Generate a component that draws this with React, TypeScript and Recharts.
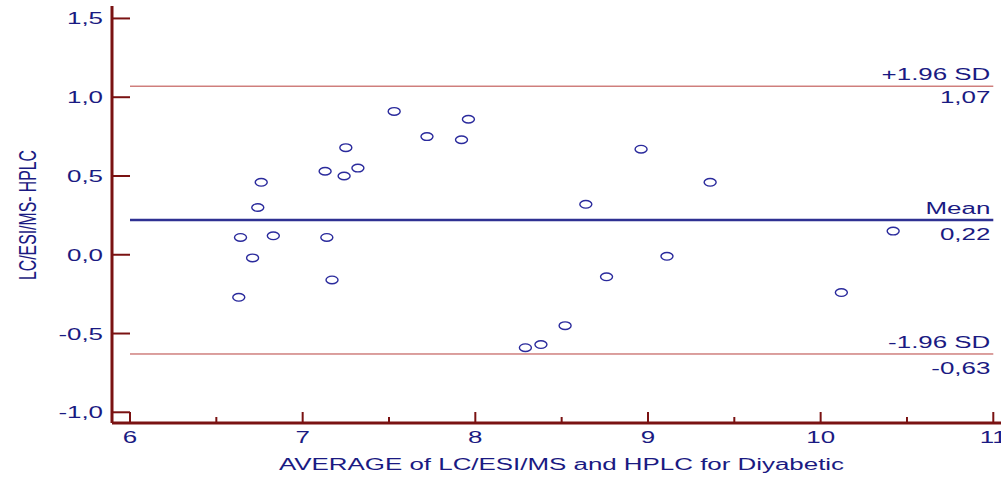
import React from 'react';
import { ScatterChart, Scatter, XAxis, YAxis, ReferenceLine } from 'recharts';

// average of the two methods (x) and their difference (y)
const averages = [
  6.63, 6.64, 6.71, 6.74, 6.76, 6.83, 7.13, 7.14, 7.17, 7.24, 7.25, 7.32, 7.53,
  7.72, 7.92, 7.96, 8.29, 8.38, 8.52, 8.64, 8.76, 8.96, 9.11, 9.36, 10.12, 10.42,
];
const differences = [
  -0.27, 0.11, -0.02, 0.3, 0.46, 0.12, 0.53, 0.11, -0.16, 0.5, 0.68, 0.55, 0.91,
  0.75, 0.73, 0.86, -0.59, -0.57, -0.45, 0.32, -0.14, 0.67, -0.01, 0.46, -0.24, 0.15,
];

const xTicks = [6, 6.5, 7, 7.5, 8, 8.5, 9, 9.5, 10, 10.5, 11];
const yTicks = [-1, -0.5, 0, 0.5, 1, 1.5];

const meanDiff = 0.22;
const upperLimit = 1.07;
const lowerLimit = -0.63;

const points = averages.map((x, i) => ({ x, y: differences[i] }));

const AXIS = '#7a1212';
const TEXT = '#1a1a82';
const FONT = '"Liberation Sans", Arial, sans-serif';

const comma = (v: number, d: number) => v.toFixed(d).replace('.', ',');

// the original draws its text horizontally stretched
function Wide({ x, y, anchor = 'start', size = 16, children }: any) {
  return (
    <g transform={`translate(${x},${y}) scale(1.62,1)`}>
      <text x={0} y={0} textAnchor={anchor} fill={TEXT} fontSize={size} fontFamily={FONT}>
        {children}
      </text>
    </g>
  );
}

function XTick(props: any) {
  const { x, y, payload } = props;
  const major = Number.isInteger(payload.value);
  return (
    <g>
      <line x1={x} x2={x} y1={y} y2={y - (major ? 11 : 6)} stroke={AXIS} strokeWidth={2} />
      {major && (
        <Wide x={x} y={y + 20} anchor="middle">
          {payload.value}
        </Wide>
      )}
    </g>
  );
}

function YTick(props: any) {
  const { x, y, payload } = props;
  return (
    <g>
      <line x1={x} x2={x + 18} y1={y} y2={y} stroke={AXIS} strokeWidth={2} />
      <Wide x={x - 9} y={y + 6} anchor="end">
        {comma(payload.value, 1)}
      </Wide>
    </g>
  );
}

function Ring(props: any) {
  const { cx, cy } = props;
  return <ellipse cx={cx} cy={cy} rx={6} ry={3.8} fill="none" stroke="#2a2a9c" strokeWidth={1.4} />;
}

function lineLabel(top: string, bottom: string, below: number) {
  return (props: any) => {
    const { viewBox } = props;
    const right = viewBox.x + viewBox.width - 3;
    return (
      <g>
        <Wide x={right} y={viewBox.y - 6} anchor="end">{top}</Wide>
        <Wide x={right} y={viewBox.y + below} anchor="end">{bottom}</Wide>
      </g>
    );
  };
}

export default function App() {
  return (
    <div style={{ position: 'absolute', left: 0, top: 0, background: '#fff' }}>
      <ScatterChart width={1001} height={479} margin={{ top: 6, right: 0, bottom: 0, left: 0 }}>
        <XAxis
          type="number"
          dataKey="x"
          domain={[5.8957, 11.0446]}
          ticks={xTicks}
          allowDataOverflow
          interval={0}
          height={56}
          tickSize={0}
          tickMargin={0}
          tick={<XTick />}
          axisLine={{ stroke: AXIS, strokeWidth: 3 }}
          label={(p: any) => (
            <Wide x={p.viewBox.x + p.viewBox.width / 2 + 5} y={p.viewBox.y + 47} anchor="middle">
              AVERAGE of LC/ESI/MS and HPLC for Diyabetic
            </Wide>
          )}
        />
        <YAxis
          type="number"
          dataKey="y"
          domain={[-1.068, 1.579]}
          ticks={yTicks}
          allowDataOverflow
          interval={0}
          width={112}
          tickSize={0}
          tickMargin={0}
          tick={<YTick />}
          axisLine={{ stroke: AXIS, strokeWidth: 3 }}
          label={() => {
            const cx = 27;
            const cy = 215;
            return (
              <text
                x={cx}
                y={cy}
                transform={`rotate(-90 ${cx} ${cy})`}
                textAnchor="middle"
                dominantBaseline="central"
                fill={TEXT}
                fontSize={24}
                fontFamily='"Liberation Sans Narrow", "Arial Narrow", sans-serif'
                textLength={130}
                lengthAdjust="spacingAndGlyphs"
              >
                LC/ESI/MS- HPLC
              </text>
            );
          }}
        />
        <ReferenceLine
          segment={[{ x: 6, y: upperLimit }, { x: 11, y: upperLimit }]}
          stroke="#b8403e"
          strokeWidth={1}
          label={lineLabel('+1.96 SD', comma(upperLimit, 2), 17)}
        />
        <ReferenceLine
          segment={[{ x: 6, y: meanDiff }, { x: 11, y: meanDiff }]}
          stroke="#2e3192"
          strokeWidth={2.5}
          label={lineLabel('Mean', comma(meanDiff, 2), 20)}
        />
        <ReferenceLine
          segment={[{ x: 6, y: lowerLimit }, { x: 11, y: lowerLimit }]}
          stroke="#b8403e"
          strokeWidth={1}
          label={lineLabel('-1.96 SD', comma(lowerLimit, 2), 20)}
        />
        <Scatter data={points} shape={<Ring />} isAnimationActive={false} />
      </ScatterChart>
    </div>
  );
}
